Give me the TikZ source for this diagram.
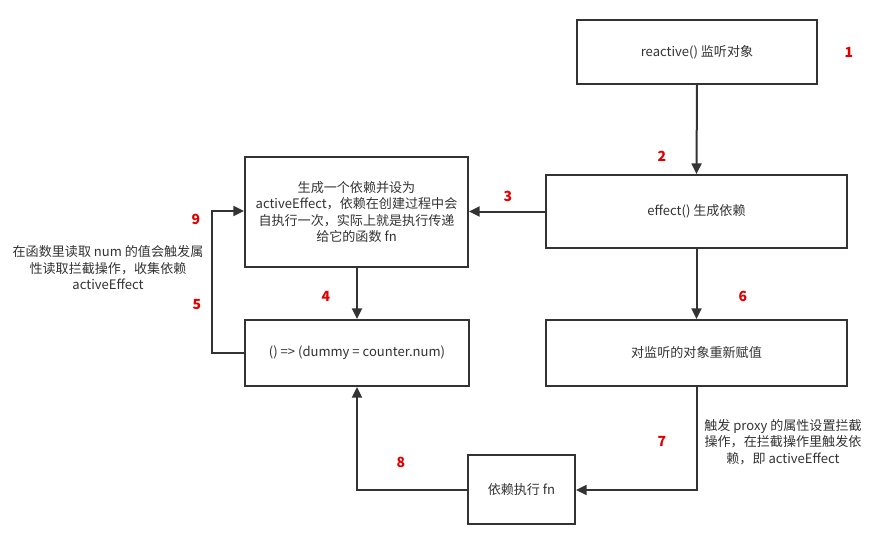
\documentclass[tikz,border=0pt]{standalone}
\usepackage{fontspec}
\setmainfont{Noto Sans CJK SC}
\usetikzlibrary{arrows.meta}
\definecolor{ln}{HTML}{333333}
\definecolor{tx}{HTML}{333333}
\definecolor{nr}{HTML}{E00000}
\begin{document}
\begin{tikzpicture}[x=0.75pt,y=-0.75pt,
  box/.style={draw=ln,line width=1.5pt,fill=white,inner sep=0pt,text=tx,font=\fontsize{9.8}{12.4}\selectfont,align=center},
  conn/.style={draw=ln,line width=1.5pt,-{Triangle[length=8pt,width=7.5pt]}},
  num/.style={text=nr,font=\fontsize{10.5}{12}\selectfont\bfseries},
  note/.style={text=tx,font=\fontsize{9.8}{12.4}\selectfont,align=center}]
\useasboundingbox (0,0) rectangle (876,536);
\node[box,minimum width=180pt,minimum height=48pt] (react) at (697,52) {reactive() 监听对象};
\node[box,minimum width=225.75pt,minimum height=54.75pt] (eff) at (696.5,211.5) {effect() 生成依赖};
\node[box,minimum width=167.25pt,minimum height=82.5pt] (gen) at (356.5,212) {生成一个依赖并设为\\activeEffect，依赖在创建过程中会\\自执行一次，实际上就是执行传递\\给它的函数 fn};
\node[box,minimum width=168pt,minimum height=49.5pt] (fn) at (357,353) {() => (dummy = counter.num)};
\node[box,minimum width=225.75pt,minimum height=49.5pt] (reas) at (696.5,353) {对监听的对象重新赋值};
\node[box,minimum width=80.25pt,minimum height=51.75pt] (run) at (521.5,489.5) {依赖执行 fn};
\coordinate (c5) at (212,353);
\coordinate (c9) at (212,211);
\coordinate (c7) at (697,490);
\coordinate (c8) at (357,490);
\draw[conn] (react.south) -- (eff.north);
\draw[conn] (eff.west) -- (gen.east |- eff.west);
\draw[conn] (gen.south -| fn.north) -- (fn.north);
\draw[conn] (fn.west) -- (c5) -- (c9) -- (gen.west |- c9);
\draw[conn] (eff.south) -- (reas.south |- reas.north);
\draw[conn] (reas.south -| c7) -- (c7) -- (run.east |- c7);
\draw[conn] (run.west |- c8) -- (c8) -- (fn.south);
\node[num] (n1) at (849,52) {1};
\node[num] (n2) at (662,156) {2};
\node[num] (n3) at (508,196) {3};
\node[num] (n4) at (326,296) {4};
\node[num] (n5) at (197,305) {5};
\node[num] (n6) at (743,296) {6};
\node[num] (n7) at (662,441) {7};
\node[num] (n8) at (401,462) {8};
\node[num] (n9) at (196,219) {9};
\node[note] (t5) at (108,268) {在函数里读取 num 的值会触发属\\性读取拦截操作，收集依赖\\activeEffect};
\node[note] (t7) at (783,442) {触发 proxy 的属性设置拦截\\操作，在拦截操作里触发依\\赖，即 activeEffect};
\end{tikzpicture}
\end{document}
